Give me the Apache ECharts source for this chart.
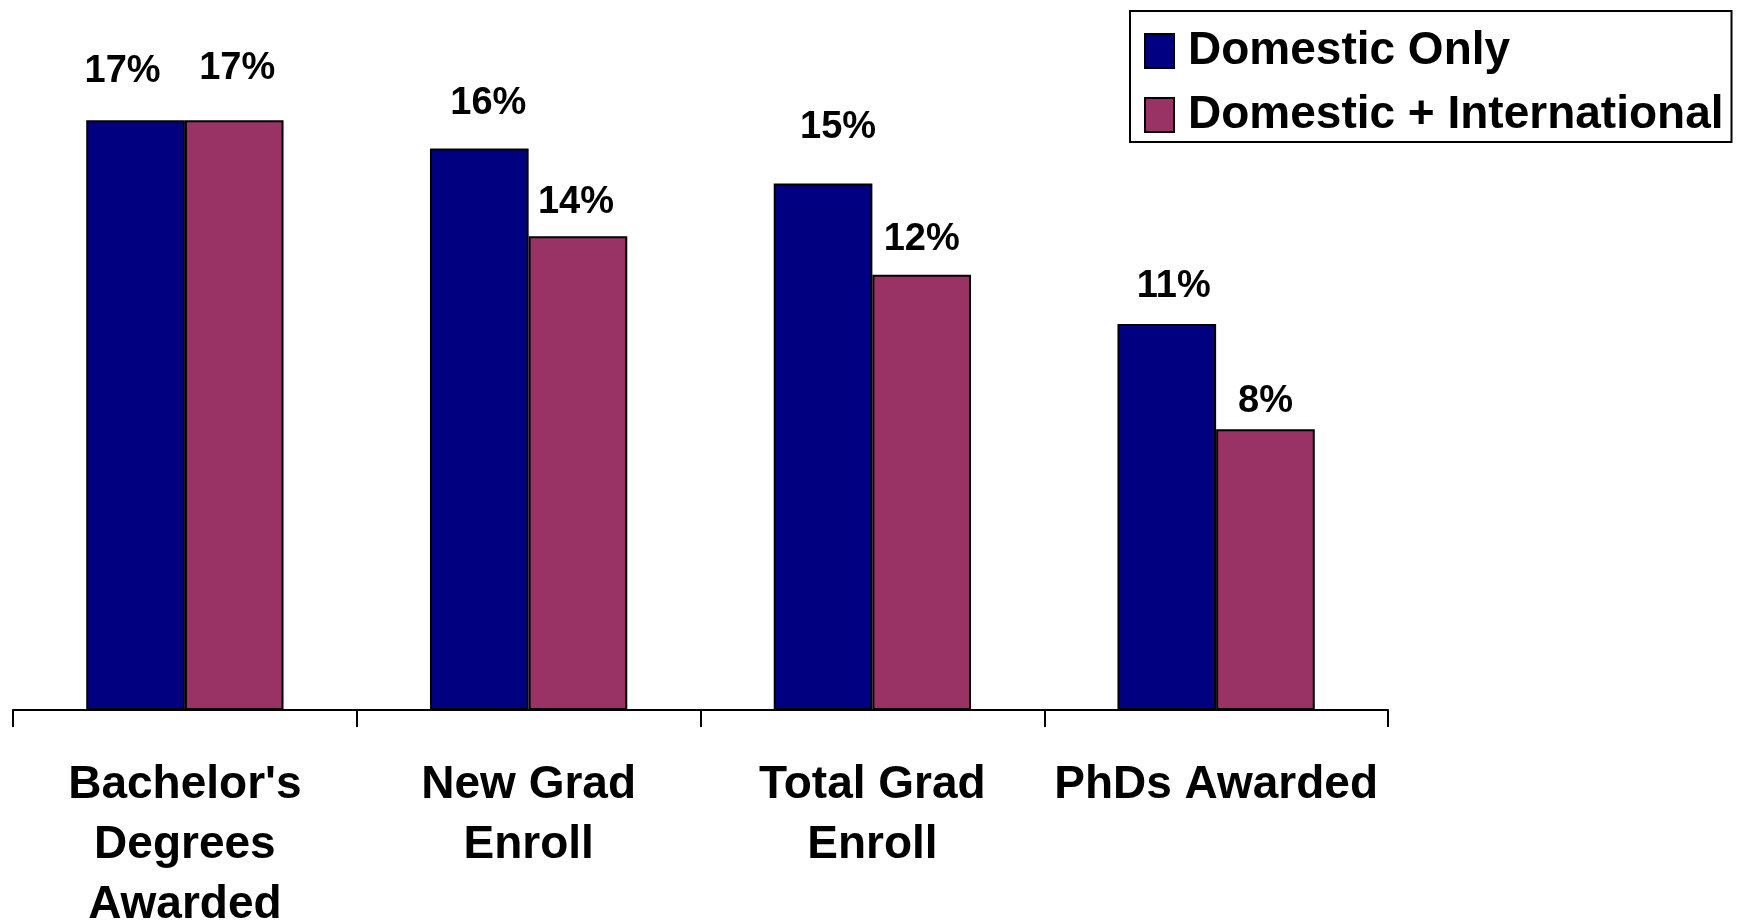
<!DOCTYPE html>
<html lang="en">
<head>
    <meta charset="UTF-8">
    <title>Domestic vs International</title>
    <script src="https://cdn.jsdelivr.net/npm/echarts@6/dist/echarts.min.js"></script>
    <style>
        html, body { margin: 0; padding: 0; background: #fff; }
        #main { width: 1741px; height: 920px; }
    </style>
</head>
<body>
    <div id="main"></div>
    <script type="text/javascript">
        // categories and values (percent)
        const categories = ["Bachelor's\nDegrees\nAwarded", 'New Grad\nEnroll', 'Total Grad\nEnroll', 'PhDs Awarded'];
        const domesticOnly = [16.8, 16.0, 15.0, 11.0];
        const domesticIntl = [16.8, 13.5, 12.4, 8.0];
        const seriesNames = ['Domestic Only', 'Domestic + International'];

        // label placement tweaks, to follow the original's uneven label spacing: [dx, distance]
        const domLabelPos = [[-13, 30], [9, 26], [15, 37], [7, 18]];
        const intlLabelPos = [[3, 33], [-2, 15], [0, 16], [0, 9]];

        const font = "'Liberation Sans', Arial, sans-serif";

        function withLabels(values, pos) {
            return values.map(function (v, i) {
                return {
                    value: v,
                    label: { offset: [pos[i][0], 0], distance: pos[i][1] }
                };
            });
        }

        var myChart = echarts.init(document.getElementById('main'));

        var labelStyle = {
            show: true,
            position: 'top',
            fontFamily: font,
            fontWeight: 'bold',
            fontSize: 38,
            color: '#000',
            formatter: function (p) { return Math.round(p.value) + '%'; }
        };

        var option = {
            backgroundColor: '#ffffff',
            animation: false,
            legend: {
                orient: 'vertical',
                left: 1130,
                top: 11,
                padding: [15, 8, 2, 14],
                borderColor: '#000',
                borderWidth: 2,
                itemWidth: 29,
                itemHeight: 34,
                itemGap: 14,
                icon: 'rect',
                textStyle: {
                    fontFamily: font,
                    fontWeight: 'bold',
                    fontSize: 46,
                    lineHeight: 50,
                    padding: [0, 0, 0, 9],
                    color: '#000'
                },
                data: seriesNames
            },
            grid: {
                left: 13,
                right: 353,
                top: 8,
                bottom: 210,
                containLabel: false,
                outerBoundsMode: 'none'
            },
            xAxis: {
                type: 'category',
                data: categories,
                axisLine: { lineStyle: { color: '#000', width: 2 } },
                axisTick: { show: true, length: 17, lineStyle: { color: '#000', width: 2 } },
                axisLabel: {
                    margin: 45,
                    fontFamily: font,
                    fontWeight: 'bold',
                    fontSize: 46,
                    lineHeight: 60,
                    color: '#000',
                    interval: 0
                }
            },
            yAxis: {
                type: 'value',
                min: 0,
                max: 20,
                show: false,
                splitLine: { show: false }
            },
            series: [
                {
                    name: seriesNames[0],
                    type: 'bar',
                    data: withLabels(domesticOnly, domLabelPos),
                    barWidth: '28.7%',
                    barGap: '0%',
                    itemStyle: { color: '#000080', borderColor: '#000', borderWidth: 2 },
                    label: labelStyle
                },
                {
                    name: seriesNames[1],
                    type: 'bar',
                    data: withLabels(domesticIntl, intlLabelPos),
                    barWidth: '28.7%',
                    barGap: '0%',
                    itemStyle: { color: '#993366', borderColor: '#000', borderWidth: 2 },
                    label: labelStyle
                }
            ]
        };

        myChart.setOption(option);
    </script>
</body>
</html>
